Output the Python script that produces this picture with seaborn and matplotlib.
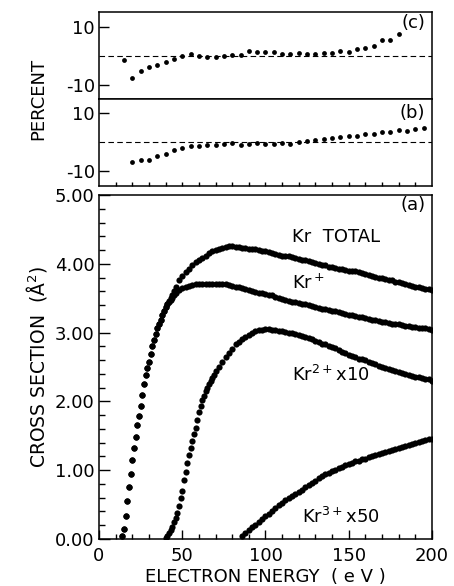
import numpy as np
import matplotlib
matplotlib.use("Agg")
import matplotlib.pyplot as plt
import seaborn as sns
from matplotlib.ticker import MultipleLocator, FormatStrFormatter

# percent deviation panels
e_pct_c = list(range(15, 181, 5))
pct_c = [-1.5, -7.9, -5.3, -3.9, -3.2, -2.4, -1.2, 0.0, 0.6, 0.0, -0.4, -0.6, 0.0, 0.2, 0.2, 1.4, 1.3,
         1.3, 1.1, 0.5, 0.4, 0.7, 0.5, 0.5, 0.7, 0.7, 1.4, 1.1, 2.1, 2.5, 3.4, 5.2, 5.4, 7.4]
e_pct_b = list(range(20, 196, 5))
pct_b = [-6.7, -6.1, -6.1, -4.6, -4.0, -2.6, -1.8, -1.1, -1.1, -0.9, -0.7, -0.6, -0.3, -0.7, -0.5, -0.1,
         -0.6, -0.6, -0.2, -0.6, 0.2, 0.5, 0.8, 1.3, 1.6, 1.8, 2.2, 2.4, 2.9, 3.0, 3.7, 3.6, 4.3, 3.9, 4.6, 5.1]

# cross sections (A^2), 1 eV steps on the rise, 2 eV after
e_tot = list(range(14, 46)) + list(range(46, 201, 2))
kr_total = [0.04, 0.14, 0.33, 0.55, 0.75, 0.95, 1.15, 1.33, 1.48, 1.65, 1.79, 1.94, 2.10, 2.26, 2.39, 2.49,
            2.58, 2.69, 2.80, 2.89, 2.98, 3.06, 3.13, 3.19, 3.25, 3.31, 3.37, 3.42, 3.46, 3.50, 3.55, 3.60,
            3.66, 3.76, 3.83, 3.88, 3.93, 3.98, 4.02, 4.06, 4.09, 4.12,
            4.15, 4.18, 4.20, 4.22, 4.23, 4.25, 4.26, 4.26, 4.25, 4.24,
            4.23, 4.23, 4.22, 4.21, 4.21, 4.20, 4.19, 4.18, 4.17, 4.15,
            4.14, 4.13, 4.12, 4.12, 4.11, 4.10, 4.08, 4.07, 4.06, 4.05,
            4.04, 4.02, 4.01, 4.00, 3.99, 3.98, 3.96, 3.95, 3.94, 3.93,
            3.92, 3.91, 3.90, 3.89, 3.89, 3.88, 3.87, 3.85, 3.84, 3.82,
            3.81, 3.80, 3.79, 3.78, 3.77, 3.76, 3.74, 3.73, 3.72, 3.70,
            3.69, 3.68, 3.67, 3.66, 3.65, 3.64, 3.63, 3.62]
kr_1 = [0.04, 0.14, 0.33, 0.55, 0.75, 0.95, 1.15, 1.33, 1.48, 1.65, 1.79, 1.94, 2.10, 2.26, 2.39, 2.49,
        2.58, 2.69, 2.80, 2.89, 2.98, 3.06, 3.13, 3.19, 3.25, 3.31, 3.37, 3.41, 3.45, 3.48, 3.51, 3.54,
        3.57, 3.62, 3.65, 3.67, 3.68, 3.69, 3.70, 3.70, 3.71, 3.71,
        3.71, 3.71, 3.71, 3.71, 3.71, 3.70, 3.69, 3.68, 3.67, 3.66,
        3.65, 3.64, 3.62, 3.61, 3.59, 3.58, 3.57, 3.56, 3.55, 3.54,
        3.52, 3.51, 3.49, 3.48, 3.46, 3.45, 3.44, 3.43, 3.42, 3.41,
        3.40, 3.39, 3.37, 3.36, 3.35, 3.34, 3.33, 3.32, 3.31, 3.30,
        3.28, 3.27, 3.26, 3.25, 3.24, 3.23, 3.22, 3.21, 3.20, 3.19,
        3.18, 3.17, 3.16, 3.15, 3.14, 3.13, 3.12, 3.12, 3.11, 3.10,
        3.09, 3.08, 3.08, 3.07, 3.06, 3.06, 3.05, 3.04]
e_kr2 = list(range(40, 71)) + list(range(72, 201, 2))
kr_2x10 = [0.02, 0.05, 0.09, 0.13, 0.18, 0.24, 0.31, 0.38, 0.48, 0.59,
           0.70, 0.86, 0.97, 1.10, 1.22, 1.33, 1.43, 1.52, 1.62, 1.73,
           1.84, 1.94, 2.02, 2.08, 2.15, 2.20, 2.25, 2.30, 2.34, 2.39, 2.44,
           2.50, 2.57, 2.64, 2.70, 2.76, 2.83, 2.87, 2.90, 2.93, 2.96,
           2.99, 3.02, 3.04, 3.04, 3.05, 3.05, 3.04, 3.04, 3.03, 3.02,
           3.01, 3.00, 2.99, 2.98, 2.97, 2.95, 2.94, 2.92, 2.90, 2.88,
           2.86, 2.84, 2.83, 2.81, 2.79, 2.77, 2.75, 2.72, 2.70, 2.68,
           2.66, 2.64, 2.62, 2.61, 2.60, 2.58, 2.56, 2.54, 2.52, 2.50,
           2.49, 2.47, 2.46, 2.44, 2.43, 2.41, 2.40, 2.39, 2.37, 2.36,
           2.35, 2.34, 2.33, 2.32, 2.30]
e_kr3 = list(range(86, 201, 2))
kr_3x50 = [0.05, 0.09, 0.13, 0.17, 0.21, 0.25, 0.29, 0.33, 0.37, 0.41,
           0.45, 0.49, 0.53, 0.56, 0.59, 0.62, 0.65, 0.68, 0.71, 0.75,
           0.78, 0.82, 0.85, 0.88, 0.91, 0.94, 0.96, 0.99, 1.01, 1.03,
           1.05, 1.07, 1.09, 1.11, 1.13, 1.14, 1.16, 1.17, 1.19, 1.20,
           1.22, 1.24, 1.25, 1.27, 1.28, 1.30, 1.31, 1.32, 1.34, 1.35,
           1.37, 1.38, 1.40, 1.41, 1.42, 1.44, 1.45, 1.46]

sns.set_style("ticks")
plt.rcParams["font.family"] = ["DejaVu Sans"]
plt.rcParams["mathtext.default"] = "regular"
for k in ("text.color", "axes.labelcolor", "xtick.color", "ytick.color", "axes.edgecolor"):
    plt.rcParams[k] = "black"

fig = plt.figure(figsize=(4.54, 5.86), dpi=100)
ax_c = fig.add_axes([0.218, 0.831, 0.7335, 0.1485])
ax_b = fig.add_axes([0.218, 0.6826, 0.7335, 0.1485])
ax_a = fig.add_axes([0.218, 0.0802, 0.7335, 0.587])

for ax in (ax_a, ax_b, ax_c):
    for s in ax.spines.values():
        s.set_linewidth(1.1)

# percent panels
for ax, ex, vals, lab in ((ax_c, e_pct_c, pct_c, "(c)"), (ax_b, e_pct_b, pct_b, "(b)")):
    sns.scatterplot(x=ex, y=vals, ax=ax, color="black", s=12, linewidth=0)
    ax.axhline(0, color="black", lw=0.8, ls=(0, (5, 3)))
    ax.set_xlim(0, 200)
    ax.set_ylim(-15, 15)
    ax.set_yticks([-10, 10])
    ax.set_yticklabels(["-10", "10"])
    ax.tick_params(axis="y", direction="in", length=7, width=1, labelsize=13, pad=3)
    ax.text(0.979, 0.87 if lab == "(c)" else 0.84, lab, transform=ax.transAxes,
            ha="right", va="center", fontsize=13)
ax_c.set_xticks([])
ax_b.set_xticks(range(10, 200, 10))
ax_b.set_xticklabels([])
ax_b.tick_params(axis="x", direction="in", length=3, width=1)
fig.text(0.085, 1 - 99 / 586, "PERCENT", rotation=90, ha="center", va="center", fontsize=13)

# cross section panel
dot = dict(color="black", s=20, linewidth=0, ax=ax_a)
sns.scatterplot(x=e_tot, y=kr_total, **dot)
sns.scatterplot(x=e_tot, y=kr_1, **dot)
sns.scatterplot(x=e_kr2, y=kr_2x10, **dot)
sns.scatterplot(x=e_kr3, y=kr_3x50, **dot)
ax_a.set_xlim(0, 200)
ax_a.set_ylim(0, 5)
ax_a.xaxis.set_major_locator(MultipleLocator(50))
ax_a.xaxis.set_minor_locator(MultipleLocator(10))
ax_a.yaxis.set_major_locator(MultipleLocator(1))
ax_a.yaxis.set_minor_locator(MultipleLocator(0.2))
ax_a.yaxis.set_major_formatter(FormatStrFormatter("%.2f"))
ax_a.tick_params(axis="x", which="major", direction="in", length=6.5, width=1, labelsize=13, pad=6)
ax_a.tick_params(axis="x", which="minor", direction="in", length=3.6, width=1)
ax_a.tick_params(axis="y", which="major", direction="in", length=8, width=1, labelsize=13, pad=3)
ax_a.tick_params(axis="y", which="minor", direction="in", length=4.3, width=1)
ax_a.set_xlabel("ELECTRON ENERGY  ( e V )", fontsize=13, labelpad=2)
ax_a.set_ylabel("CROSS SECTION  (Å$^2$)", fontsize=13.5, labelpad=4)
ax_a.text(196, 4.85, "(a)", ha="right", va="center", fontsize=13)
ax_a.text(116, 4.39, "Kr  TOTAL", ha="left", va="center", fontsize=13)
ax_a.text(116, 3.72, "Kr$^+$", ha="left", va="center", fontsize=13)
ax_a.text(116, 2.38, "Kr$^{2+}$x10", ha="left", va="center", fontsize=13)
ax_a.text(122, 0.32, "Kr$^{3+}$x50", ha="left", va="center", fontsize=13)

fig.savefig("out.png", dpi=100)
